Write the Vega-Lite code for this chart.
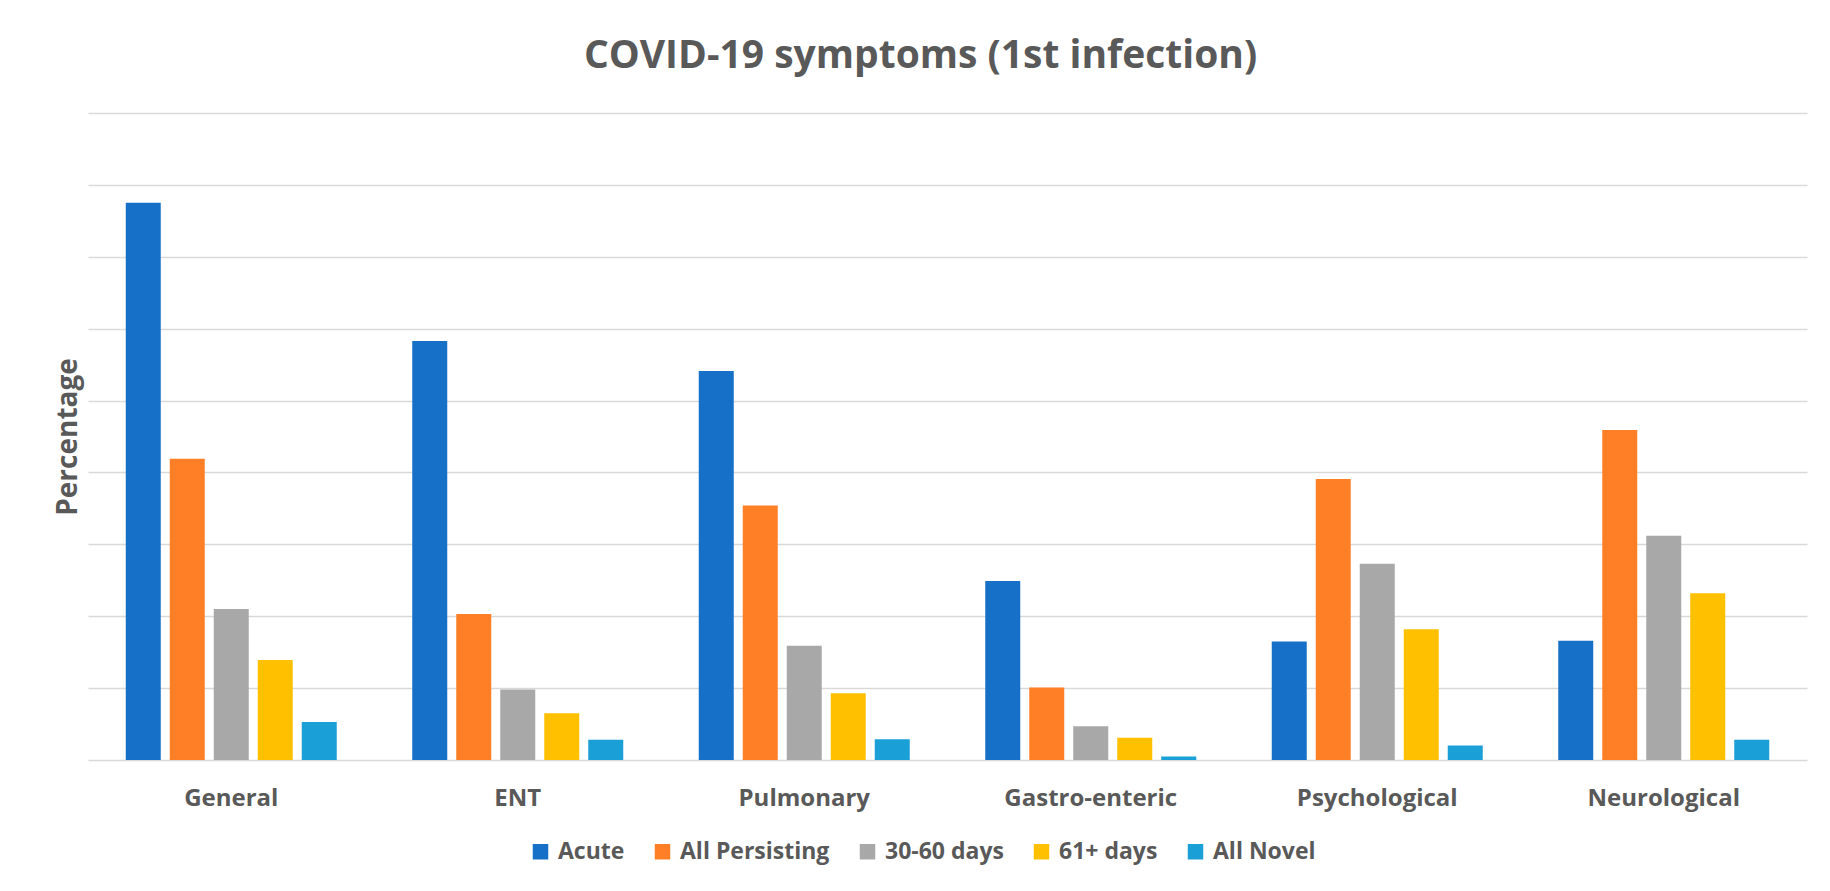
{
  "$schema": "https://vega.github.io/schema/vega-lite/v6.json",
  "width": 1719,
  "height": 647,
  "autosize": "none",
  "padding": {"left": 88, "top": 113, "right": 23, "bottom": 131},
  "background": "white",
  "title": {
    "text": "COVID-19 symptoms (1st infection)",
    "font": "Open Sans",
    "fontSize": 39,
    "fontWeight": "bold",
    "color": "#595959",
    "anchor": "middle",
    "frame": "group",
    "baseline": "alphabetic",
    "offset": 43,
    "dx": -27,
    "dy": 37
  },
  "data": {
    "values": [
      {"category": "General", "series": "Acute", "value": 77.5},
      {"category": "General", "series": "All Persisting", "value": 41.9},
      {"category": "General", "series": "30-60 days", "value": 21.0},
      {"category": "General", "series": "61+ days", "value": 13.9},
      {"category": "General", "series": "All Novel", "value": 5.3},
      {"category": "ENT", "series": "Acute", "value": 58.3},
      {"category": "ENT", "series": "All Persisting", "value": 20.3},
      {"category": "ENT", "series": "30-60 days", "value": 9.8},
      {"category": "ENT", "series": "61+ days", "value": 6.5},
      {"category": "ENT", "series": "All Novel", "value": 2.8},
      {"category": "Pulmonary", "series": "Acute", "value": 54.1},
      {"category": "Pulmonary", "series": "All Persisting", "value": 35.4},
      {"category": "Pulmonary", "series": "30-60 days", "value": 15.9},
      {"category": "Pulmonary", "series": "61+ days", "value": 9.3},
      {"category": "Pulmonary", "series": "All Novel", "value": 2.9},
      {"category": "Gastro-enteric", "series": "Acute", "value": 24.9},
      {"category": "Gastro-enteric", "series": "All Persisting", "value": 10.1},
      {"category": "Gastro-enteric", "series": "30-60 days", "value": 4.7},
      {"category": "Gastro-enteric", "series": "61+ days", "value": 3.1},
      {"category": "Gastro-enteric", "series": "All Novel", "value": 0.5},
      {"category": "Psychological", "series": "Acute", "value": 16.5},
      {"category": "Psychological", "series": "All Persisting", "value": 39.1},
      {"category": "Psychological", "series": "30-60 days", "value": 27.3},
      {"category": "Psychological", "series": "61+ days", "value": 18.2},
      {"category": "Psychological", "series": "All Novel", "value": 2.0},
      {"category": "Neurological", "series": "Acute", "value": 16.6},
      {"category": "Neurological", "series": "All Persisting", "value": 45.9},
      {"category": "Neurological", "series": "30-60 days", "value": 31.2},
      {"category": "Neurological", "series": "61+ days", "value": 23.2},
      {"category": "Neurological", "series": "All Novel", "value": 2.8}
    ]
  },
  "mark": {"type": "bar"},
  "encoding": {
    "x": {
      "field": "category",
      "type": "nominal",
      "sort": ["General", "ENT", "Pulmonary", "Gastro-enteric", "Psychological", "Neurological"],
      "scale": {"paddingInner": 0, "paddingOuter": 0},
      "axis": {
        "title": null,
        "labelAngle": 0,
        "labelFont": "Open Sans",
        "labelFontSize": 24,
        "labelFontWeight": "bold",
        "labelColor": "#595959",
        "labelPadding": 26,
        "ticks": false,
        "domain": false,
        "grid": false
      }
    },
    "xOffset": {
      "field": "series",
      "type": "nominal",
      "sort": ["Acute", "All Persisting", "30-60 days", "61+ days", "All Novel"],
      "scale": {"paddingInner": 0.2045, "paddingOuter": 0.858}
    },
    "y": {
      "field": "value",
      "type": "quantitative",
      "scale": {"domain": [0, 90], "nice": false},
      "axis": {
        "title": "Percentage",
        "titleFont": "Open Sans",
        "titleFontSize": 28,
        "titleFontWeight": "bold",
        "titleColor": "#595959",
        "titlePadding": 6,
        "labels": false,
        "ticks": false,
        "domain": false,
        "values": [0, 10, 20, 30, 40, 50, 60, 70, 80, 90],
        "gridColor": "#d9d9d9",
        "gridWidth": 1.6
      }
    },
    "color": {
      "field": "series",
      "type": "nominal",
      "sort": ["Acute", "All Persisting", "30-60 days", "61+ days", "All Novel"],
      "scale": {
        "domain": ["Acute", "All Persisting", "30-60 days", "61+ days", "All Novel"],
        "range": ["#1770C8", "#FF7F27", "#A8A8A8", "#FFC000", "#1A9FD7"]
      },
      "legend": {
        "title": null,
        "orient": "none",
        "direction": "horizontal",
        "legendX": 441,
        "legendY": 727,
        "symbolType": "square",
        "symbolSize": 240,
        "symbolStrokeWidth": 0,
        "labelFont": "Open Sans",
        "labelFontSize": 23,
        "labelFontWeight": "bold",
        "labelColor": "#595959",
        "labelOffset": 6,
        "columnPadding": 26,
        "labelLimit": 400
      }
    }
  },
  "config": {
    "view": {"stroke": null}
  }
}
